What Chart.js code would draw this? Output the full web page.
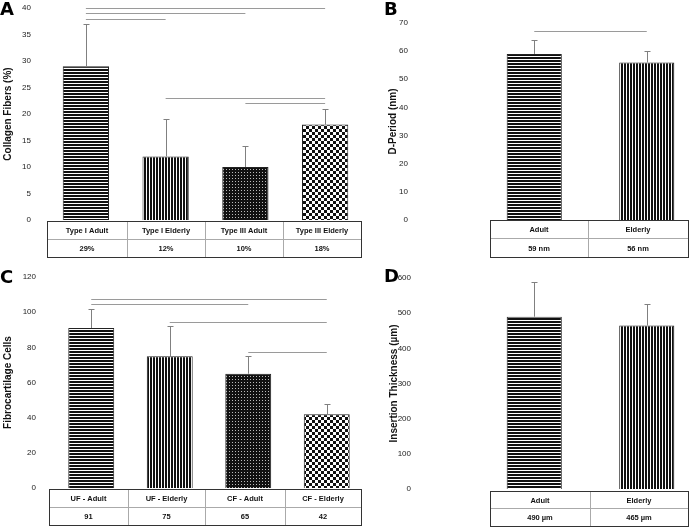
<!DOCTYPE html>
<html><head><meta charset="utf-8">
<script src="https://cdn.jsdelivr.net/npm/chart.js@4.4.0/dist/chart.umd.min.js"></script>
<style>
html,body{margin:0;padding:0;background:#fff;overflow:hidden;width:689px;height:527px;position:relative;}
canvas{position:absolute;left:0;top:0;}
.lt{position:absolute;font:bold 18px "DejaVu Sans","Liberation Sans",Arial,sans-serif;line-height:18px;color:#000;}
</style></head><body>
<canvas id="cA" width="720" height="527"></canvas>
<canvas id="cB" width="720" height="527"></canvas>
<canvas id="cC" width="720" height="527"></canvas>
<canvas id="cD" width="720" height="527"></canvas>
<div class="lt" style="left:0;top:0">A</div>
<div class="lt" style="left:384px;top:0">B</div>
<div class="lt" style="left:0;top:268px">C</div>
<div class="lt" style="left:384px;top:267px">D</div>
<script>
// ---- DATA ----
const catsA = ['Type I Adult','Type I Elderly','Type III Adult','Type III Elderly'];
const valsA = [29, 12, 10, 18];
const errA = [37, 19, 14, 21];
const tableA = ['29%','12%','10%','18%'];
const sigA = [[0,3,40],[0,2,39],[0,1,38],[1,3,23],[2,3,22]];
const patA = ['h','v','dot','check'];

const catsB = ['Adult','Elderly'];
const valsB = [59, 56];
const errB = [64, 60];
const tableB = ['59 nm','56 nm'];
const sigB = [[0,1,67]];
const patB = ['h','v'];

const catsC = ['UF - Adult','UF - Elderly','CF - Adult','CF - Elderly'];
const valsC = [91, 75, 65, 42];
const errC = [102, 92, 75, 48];
const tableC = ['91','75','65','42'];
const sigC = [[0,3,107.5],[0,2,104.7],[1,3,94.4],[2,3,77.4]];
const patC = ['h','v','dot','check'];

const catsD = ['Adult','Elderly'];
const valsD = [490, 465];
const errD = [590, 525];
const tableD = ['490 µm','465 µm'];
const sigD = [];
const patD = ['h','v'];

const FAM = '"Liberation Sans", Arial, sans-serif';

// ---- patterns ----
function makePattern(kind){
  const c = document.createElement('canvas');
  const x = c.getContext('2d');
  if(kind==='h'){ c.width=3;c.height=3; x.fillStyle='#fff';x.fillRect(0,0,3,3); x.fillStyle='#111'; x.fillRect(0,0,3,2); }
  else if(kind==='v'){ c.width=3;c.height=3; x.fillStyle='#fff';x.fillRect(0,0,3,3); x.fillStyle='#111'; x.fillRect(0,0,2,3); }
  else if(kind==='dot'){ c.width=3;c.height=3; x.fillStyle='#111';x.fillRect(0,0,3,3); x.fillStyle='#bbb'; x.fillRect(1,1,1,1); }
  else { c.width=6;c.height=6; x.fillStyle='#fff';x.fillRect(0,0,6,6); x.fillStyle='#111'; x.fillRect(0,0,3,3); x.fillRect(3,3,3,3); }
  return x.createPattern(c,'repeat');
}

function panelPlugin(cfg){
  return {
    id:'panel'+cfg.id,
    afterDatasetsDraw(chart){
      const ctx = chart.ctx, ys = chart.scales.y, meta = chart.getDatasetMeta(0);
      ctx.save();
      // error bars
      ctx.strokeStyle = '#808080'; ctx.lineWidth = 1;
      cfg.vals.forEach((v,i)=>{
        const x = Math.round(meta.data[i].x)+0.5;
        const yb = ys.getPixelForValue(v), yt = Math.round(ys.getPixelForValue(cfg.err[i]))+0.5;
        ctx.beginPath(); ctx.moveTo(x,yb); ctx.lineTo(x,yt); ctx.moveTo(x-3,yt); ctx.lineTo(x+3,yt); ctx.stroke();
      });
      // significance lines
      ctx.strokeStyle = '#9a9a9a';
      cfg.sig.forEach(([a,b,v])=>{
        const y = Math.round(ys.getPixelForValue(v))+0.5;
        ctx.beginPath(); ctx.moveTo(meta.data[a].x,y); ctx.lineTo(meta.data[b].x,y); ctx.stroke();
      });
      // table
      const t = cfg.table;
      ctx.strokeStyle = '#aaa';
      t.cols.forEach(c=>{ ctx.beginPath(); ctx.moveTo(c+0.5,t.top); ctx.lineTo(c+0.5,t.bottom); ctx.stroke(); });
      ctx.beginPath(); ctx.moveTo(t.left,t.mid+0.5); ctx.lineTo(t.right,t.mid+0.5); ctx.stroke();
      ctx.strokeStyle = '#333';
      ctx.strokeRect(t.left+0.5,t.top+0.5,t.right-t.left,t.bottom-t.top);
      const edges = [t.left, ...t.cols, t.right];
      ctx.fillStyle = '#111'; ctx.font = 'bold 7.5px '+FAM; ctx.textAlign='center'; ctx.textBaseline='middle';
      cfg.cats.forEach((c,i)=>{
        const cx = (edges[i]+edges[i+1])/2;
        ctx.fillText(c, cx, (t.top+t.mid)/2+1);
        ctx.fillText(cfg.labels[i], cx, (t.mid+t.bottom)/2+1);
      });
      ctx.restore();
    }
  };
}

function makePanel(cfg){
  const W = 720, H = 527;
  const a = cfg.area;
  new Chart(document.getElementById(cfg.canvas), {
    type:'bar',
    data:{ labels: cfg.cats, datasets:[{ data: cfg.vals, backgroundColor: cfg.pats.map(makePattern), borderColor:'#222', borderWidth:1, barPercentage: cfg.barPct, categoryPercentage:1 }]},
    options:{
      responsive:false, maintainAspectRatio:false, animation:false, devicePixelRatio:1,
      layout:{ padding:{ left: cfg.padL, top: a.top, right: W - a.right, bottom: H - a.bottom } },
      plugins:{ legend:{display:false}, tooltip:{enabled:false} },
      scales:{
        x:{ display:false },
        y:{ min: cfg.min, max: cfg.max,
            ticks:{ stepSize: cfg.step, padding: cfg.tickPad, color:'#222', font:{size:8, family:FAM} },
            grid:{ display:false, drawTicks:false }, border:{ display:false },
            title:{ display:true, text: cfg.title, color:'#111', font:{size:10, weight:'bold', family:FAM}, padding:{top: cfg.titleX - cfg.padL - 6, bottom:0} },
            afterFit: s => { s.width = a.left - cfg.padL; s.paddingTop = 0; s.paddingBottom = 0; }
        }
      }
    },
    plugins:[panelPlugin(cfg)]
  });
}

makePanel({id:'A', canvas:'cA', cats:catsA, vals:valsA, err:errA, labels:tableA, sig:sigA, pats:patA,
  min:0, max:40, step:5, title:'Collagen Fibers (%)', area:{left:46,right:365,top:8,bottom:220}, padL:0, tickPad:15, titleX:8, barPct:0.58,
  table:{left:47,right:361,top:221,mid:239,bottom:257,cols:[127,205,283]}});
makePanel({id:'B', canvas:'cB', cats:catsB, vals:valsB, err:errB, labels:tableB, sig:sigB, pats:patB,
  min:0, max:70, step:10, title:'D-Period (nm)', area:{left:478,right:703,top:23,bottom:220}, padL:362, tickPad:70, titleX:393, barPct:0.49,
  table:{left:490,right:688,top:220,mid:238,bottom:257,cols:[588]}});
makePanel({id:'C', canvas:'cC', cats:catsC, vals:valsC, err:errC, labels:tableC, sig:sigC, pats:patC,
  min:0, max:120, step:20, title:'Fibrocartilage Cells', area:{left:52,right:366,top:277,bottom:488}, padL:0, tickPad:16, titleX:8, barPct:0.585,
  table:{left:49,right:361,top:489,mid:507,bottom:525,cols:[128,205,285]}});
makePanel({id:'D', canvas:'cD', cats:catsD, vals:valsD, err:errD, labels:tableD, sig:sigD, pats:patD,
  min:0, max:600, step:100, title:'Insertion Thickness (µm)', area:{left:478,right:703,top:278,bottom:489}, padL:362, tickPad:67, titleX:394, barPct:0.49,
  table:{left:490,right:688,top:491,mid:508,bottom:526,cols:[590]}});
</script>
</body></html>
